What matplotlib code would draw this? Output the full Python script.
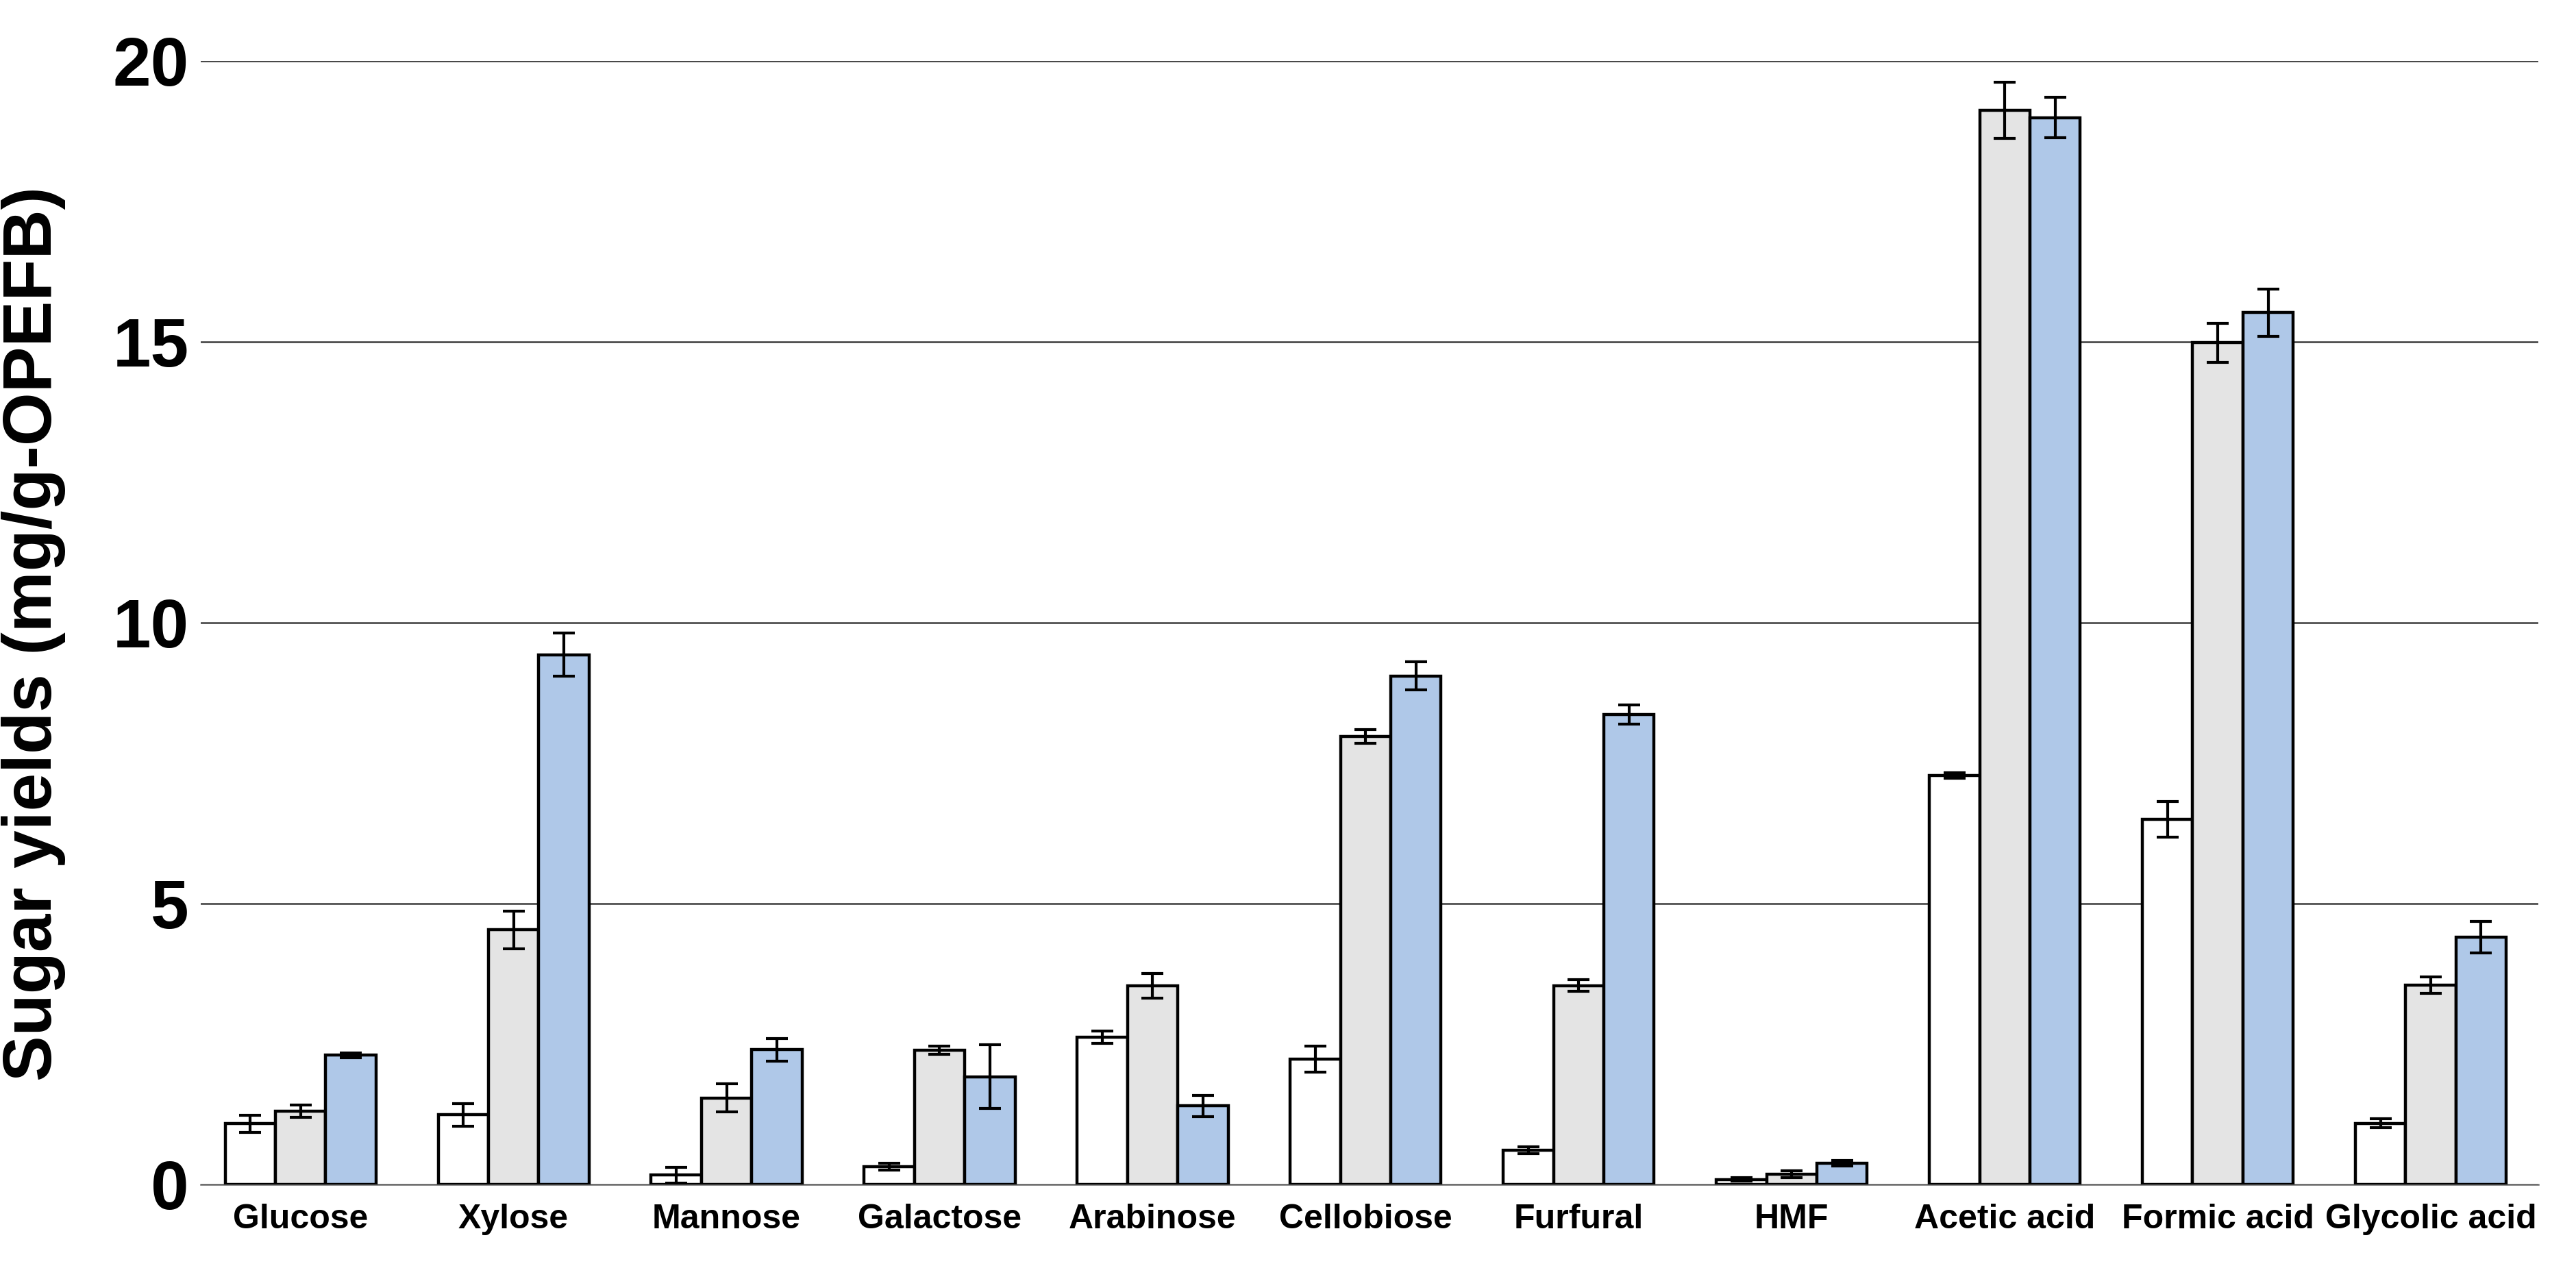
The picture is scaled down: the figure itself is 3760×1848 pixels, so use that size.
import numpy as np
import matplotlib.pyplot as plt

# values (mg/g-OPEFB)
categories = ["Glucose", "Xylose", "Mannose", "Galactose", "Arabinose", "Cellobiose",
              "Furfural", "HMF", "Acetic acid", "Formic acid", "Glycolic acid"]

white_vals = [1.08, 1.24, 0.17, 0.32, 2.62, 2.23, 0.61, 0.09, 7.28, 6.50, 1.09]
white_err  = [0.15, 0.20, 0.14, 0.06, 0.11, 0.23, 0.06, 0.03, 0.05, 0.32, 0.08]

gray_vals  = [1.30, 4.53, 1.54, 2.39, 3.54, 7.97, 3.54, 0.18, 19.12, 14.98, 3.55]
gray_err   = [0.11, 0.33, 0.25, 0.07, 0.22, 0.12, 0.10, 0.06, 0.50, 0.35, 0.15]

blue_vals  = [2.30, 9.43, 2.40, 1.92, 1.40, 9.05, 8.36, 0.38, 18.99, 15.52, 4.40]
blue_err   = [0.04, 0.38, 0.20, 0.57, 0.19, 0.25, 0.17, 0.05, 0.36, 0.42, 0.28]

series = [(white_vals, white_err, "white"),
          (gray_vals, gray_err, "#e4e4e4"),
          (blue_vals, blue_err, "#afc8e8")]

plt.rcParams["font.family"] = ["Liberation Sans", "DejaVu Sans"]
plt.rcParams["font.weight"] = "bold"

fig = plt.figure(figsize=(18.8, 9.24), dpi=200)
ax = fig.add_axes([0.0778, 0.0644, 0.9076, 0.8876])

x = np.arange(len(categories))
w = 0.236
for i, (vals, errs, col) in enumerate(series):
    ax.bar(x + (i - 1) * w, vals, w, color=col, edgecolor="black", linewidth=1.6,
           yerr=errs, capsize=5.9,
           error_kw=dict(elinewidth=1.5, capthick=1.5, ecolor="black"), zorder=3)

ax.set_ylim(0, 20)
ax.set_xlim(-0.47, 10.505)
ax.set_yticks([0, 5, 10, 15, 20])
ax.set_xticks(x)
ax.set_xticklabels(categories, fontsize=18, fontweight="bold")
ax.tick_params(axis="x", length=0, pad=10)
ax.tick_params(axis="y", length=0, pad=6, labelsize=36)
for lab in ax.get_yticklabels():
    lab.set_fontweight("bold")

ax.yaxis.grid(True, color="#3c3c3c", linewidth=0.9, zorder=0)
ax.set_axisbelow(True)
for s in ["top", "right", "left"]:
    ax.spines[s].set_visible(False)
ax.spines["bottom"].set_color("#707070")
ax.spines["bottom"].set_linewidth(0.9)

ax.set_ylabel("Sugar yields (mg/g-OPEFB)", fontsize=36, fontweight="bold")
ax.yaxis.set_label_coords(-0.0576, 0.49)

fig.savefig("out.png", dpi=200)
